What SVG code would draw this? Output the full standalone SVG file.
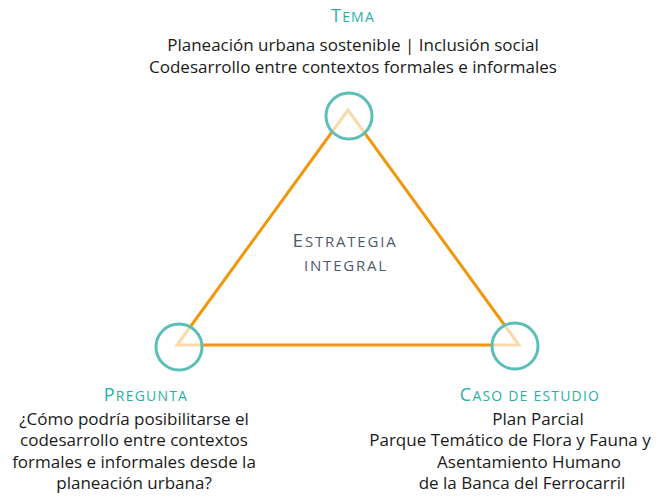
<svg xmlns="http://www.w3.org/2000/svg" width="662" height="498" viewBox="0 0 662 498">
<style>
.body{font-family:"Open Sans","Lato",sans-serif;font-size:17px;fill:#1a1a1a;text-anchor:middle}
.head{font-family:"Open Sans","Lato",sans-serif;font-size:14px;fill:#2ab0a4;text-anchor:middle;letter-spacing:1.2px}
.center{font-family:"Open Sans","Lato",sans-serif;font-size:15px;fill:#4d5a6e;text-anchor:middle;letter-spacing:1.8px}
.cap1{font-size:18px}
.cap2{font-size:19px}
.node{fill:#ffffff;fill-opacity:0.65;stroke:#5cbfb7;stroke-width:3}
.edge{stroke:#f2960c;stroke-width:3;fill:none;stroke-linejoin:miter}
</style>
<rect width="662" height="498" fill="#ffffff"/>
<g id="connectors">
<polygon class="edge" points="348,110 177,345 519,345"/>
</g>
<g id="tema">
<circle class="node" cx="349" cy="116" r="23"/>
<text class="head" x="353" y="22"><tspan class="cap1">T</tspan>EMA</text>
<text class="body" x="353" y="51">Planeación urbana sostenible | Inclusión social</text>
<text class="body" x="353" y="73">Codesarrollo entre contextos formales e informales</text>
</g>
<g id="pregunta">
<circle class="node" cx="179" cy="347" r="23"/>
<text class="head" x="146" y="401"><tspan class="cap1">P</tspan>REGUNTA</text>
<text class="body" x="134" y="425">¿Cómo podría posibilitarse  el</text>
<text class="body" x="134" y="446">codesarrollo entre contextos</text>
<text class="body" x="134" y="468">formales e informales desde la</text>
<text class="body" x="134" y="489">planeación urbana?</text>
</g>
<g id="caso">
<circle class="node" cx="515" cy="346" r="23"/>
<text class="head" x="530" y="401"><tspan class="cap1">C</tspan>ASO DE ESTUDIO</text>
<text class="body" x="538" y="425">Plan Parcial</text>
<text class="body" x="510" y="446">Parque Temático de Flora y Fauna y</text>
<text class="body" x="529" y="468">Asentamiento Humano</text>
<text class="body" x="522" y="489">de la Banca del Ferrocarril</text>
</g>
<g id="estrategia">
<text class="center" x="345" y="247"><tspan class="cap2">E</tspan>STRATEGIA</text>
<text class="center" x="346" y="271">INTEGRAL</text>
</g>
</svg>
